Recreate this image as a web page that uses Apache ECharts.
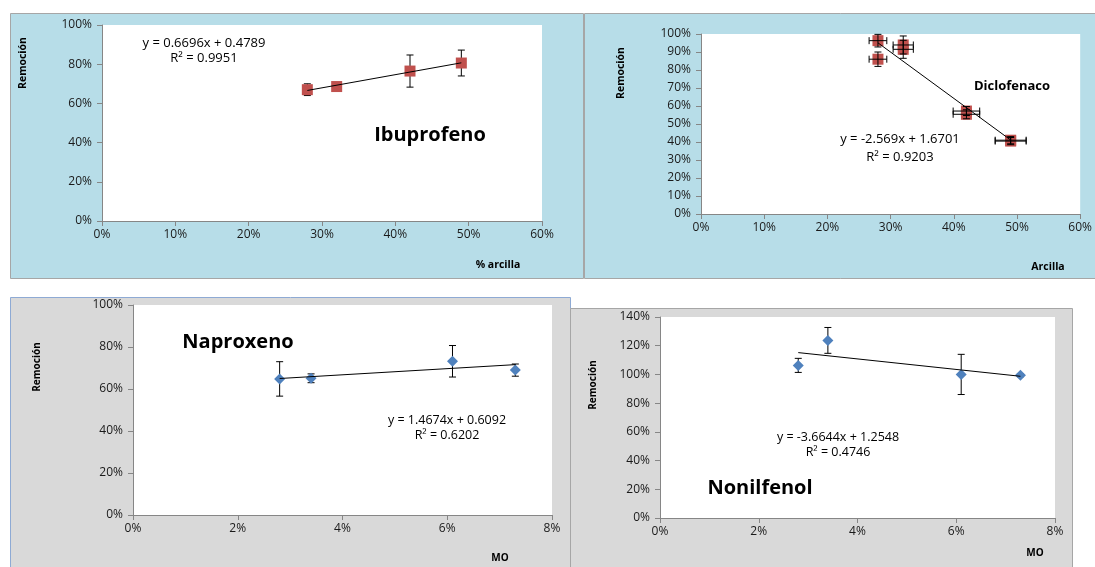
<!DOCTYPE html>
<html><head><meta charset="utf-8">
<script src="https://cdn.jsdelivr.net/npm/echarts@6/dist/echarts.min.js"></script>
<style>html,body{margin:0;padding:0;background:#fff;}#c{width:1095px;height:567px;}</style>
</head><body><div id="c"></div>
<script>
// ---- Data ----
const ibuX = [0.28, 0.32, 0.42, 0.49];
const ibuY = [0.670, 0.686, 0.765, 0.806];
const ibuYErr = [0.030, 0.010, 0.082, 0.066];
const ibuTrend = [[0.28, 0.666], [0.49, 0.807]];

const dicX = [0.28, 0.28, 0.32, 0.32, 0.42, 0.42, 0.49, 0.49];
const dicY = [0.963, 0.860, 0.939, 0.915, 0.572, 0.554, 0.410, 0.405];
const dicYErr = [0.035, 0.040, 0.050, 0.050, 0.025, 0.025, 0.020, 0.020];
const dicXErr = [0.014, 0.014, 0.016, 0.016, 0.021, 0.021, 0.0245, 0.0245];
const dicTrend = [[0.28, 0.951], [0.49, 0.411]];

const napX = [0.028, 0.034, 0.061, 0.073];
const napY = [0.648, 0.651, 0.732, 0.690];
const napYErr = [0.082, 0.021, 0.075, 0.029];
const napTrend = [[0.028, 0.650], [0.073, 0.716]];

const nonX = [0.028, 0.034, 0.061, 0.073];
const nonY = [1.063, 1.237, 1.000, 0.994];
const nonYErr = [0.049, 0.090, 0.140, 0.010];
const nonTrend = [[0.028, 1.152], [0.073, 0.987]];

const clayTicks = {min: 0, max: 0.6, interval: 0.1};
const moTicks = {min: 0, max: 0.08, interval: 0.02};

// ---- helpers ----
const FONT = '"Open Sans"';
const pct = v => Math.round(v * 100) + '%';
function pts(xs, ys) { return xs.map((x, i) => [x, ys[i]]); }
function errs(xs, ys, ye, xe) { return xs.map((x, i) => [x, ys[i], ye[i], xe ? xe[i] : 0]); }

function errRender(params, api) {
  const x = api.value(0), y = api.value(1), ye = api.value(2), xe = api.value(3);
  const cap = 3.5;
  const top = api.coord([x, y + ye]), bot = api.coord([x, y - ye]);
  const children = [];
  const st = {stroke: '#000', lineWidth: 1};
  children.push({type: 'line', shape: {x1: top[0], y1: top[1], x2: bot[0], y2: bot[1]}, style: st});
  children.push({type: 'line', shape: {x1: top[0] - cap, y1: top[1], x2: top[0] + cap, y2: top[1]}, style: st});
  children.push({type: 'line', shape: {x1: bot[0] - cap, y1: bot[1], x2: bot[0] + cap, y2: bot[1]}, style: st});
  if (xe > 0) {
    const l = api.coord([x - xe, y]), r = api.coord([x + xe, y]);
    children.push({type: 'line', shape: {x1: l[0], y1: l[1], x2: r[0], y2: r[1]}, style: st});
    children.push({type: 'line', shape: {x1: l[0], y1: l[1] - cap, x2: l[0], y2: l[1] + cap}, style: st});
    children.push({type: 'line', shape: {x1: r[0], y1: r[1] - cap, x2: r[0], y2: r[1] + cap}, style: st});
  }
  return {type: 'group', children};
}

function xAx(idx, t) {
  return Object.assign({type: 'value', gridIndex: idx, splitLine: {show: false},
    axisLine: {onZero: false, lineStyle: {color: '#868686'}},
    axisTick: {length: 5, lineStyle: {color: '#868686'}},
    axisLabel: {formatter: pct, color: '#1a1a1a', fontFamily: FONT, fontSize: 12, margin: 8, showMaxLabel: true, showMinLabel: true}}, t);
}
function yAx(idx, t) {
  return Object.assign({type: 'value', gridIndex: idx, splitLine: {show: false},
    axisLine: {show: true, onZero: false, lineStyle: {color: '#868686'}},
    axisTick: {show: true, length: 5, lineStyle: {color: '#868686'}},
    axisLabel: {formatter: pct, color: '#1a1a1a', fontFamily: FONT, fontSize: 12, margin: 10}}, t);
}
const redSym = {symbol: 'rect', symbolSize: 11, itemStyle: {color: '#c0504d', opacity: 1}};
const blueSym = {symbol: 'diamond', symbolSize: [11, 11], itemStyle: {color: '#4f81bd', opacity: 1}};

function seriesFor(idx, xs, ys, ye, xe, trend, sym, errOnTop) {
  return [
    {type: 'custom', xAxisIndex: idx, yAxisIndex: idx, renderItem: errRender, data: errs(xs, ys, ye, xe), z: errOnTop ? 3.5 : 2, silent: true},
    Object.assign({type: 'scatter', xAxisIndex: idx, yAxisIndex: idx, data: pts(xs, ys), z: 3, silent: true}, sym),
    {type: 'line', xAxisIndex: idx, yAxisIndex: idx, data: trend, symbol: 'none', z: 4, silent: true,
      lineStyle: {color: '#000', width: 1}}
  ];
}

function txt(x, y, text, size, bold, extra) {
  return Object.assign({type: 'text', x: x, y: y, z: 100,
    style: {text: text, fill: '#000', font: (bold ? 'bold ' : '') + size + 'px ' + FONT,
      textAlign: 'center', textVerticalAlign: 'middle'}}, extra || {});
}
function vtxt(x, y, text, size) {
  return {type: 'text', x: x, y: y, rotation: Math.PI / 2, z: 100,
    style: {text: text, fill: '#000', font: 'bold ' + size + 'px ' + FONT, textAlign: 'center', textVerticalAlign: 'middle'}};
}

const chart = echarts.init(document.getElementById('c'), null, {renderer: 'canvas'});
chart.setOption({
  animation: false,
  backgroundColor: '#ffffff',
  graphic: [
    {type: 'rect', z: -10, shape: {x: 10.5, y: 13.5, width: 573, height: 265}, style: {fill: '#b7dde8', stroke: '#a6a6a6', lineWidth: 1}},
    {type: 'rect', z: -10, shape: {x: 584.5, y: 13.5, width: 512, height: 265}, style: {fill: '#b7dde8', stroke: '#a6a6a6', lineWidth: 1}},
    {type: 'rect', z: -10, shape: {x: 10.5, y: 297.5, width: 560, height: 275}, style: {fill: '#d9d9d9', stroke: '#8eaad4', lineWidth: 1}},
    {type: 'rect', z: -9, shape: {x: 570.5, y: 308.5, width: 502, height: 265}, style: {fill: '#d9d9d9', stroke: '#a6a6a6', lineWidth: 1}},
    // panel 1
    txt(204, 43, 'y = 0.6696x + 0.4789', 13, false),
    txt(204, 58, 'R² = 0.9951', 13, false),
    txt(430, 135, 'Ibuprofeno', 20, true),
    vtxt(23, 63, 'Remoción', 10.5),
    txt(498, 265, '% arcilla', 10.5, true),
    // panel 2
    txt(900, 139, 'y = -2.569x + 1.6701', 13, false),
    txt(900, 157, 'R² = 0.9203', 13, false),
    txt(1012, 86, 'Diclofenaco', 13, true),
    vtxt(621, 73, 'Remoción', 10.5),
    txt(1048, 267, 'Arcilla', 10.5, true),
    // panel 3
    txt(447, 420, 'y = 1.4674x + 0.6092', 12.5, false),
    txt(447, 435, 'R² = 0.6202', 12.5, false),
    txt(238, 342, 'Naproxeno', 20, true),
    vtxt(37, 367, 'Remoción', 10),
    txt(500, 558, 'MO', 10, true),
    // panel 4
    txt(838, 437, 'y = -3.6644x + 1.2548', 12.5, false),
    txt(838, 452, 'R² = 0.4746', 12.5, false),
    txt(760, 488, 'Nonilfenol', 20, true),
    vtxt(593, 385, 'Remoción', 10),
    txt(1035, 553, 'MO', 10, true)
  ],
  grid: [
    {left: 102, top: 25, width: 440, height: 196, show: true, backgroundColor: '#fff', borderWidth: 0},
    {left: 701, top: 34, width: 387, height: 180, show: true, backgroundColor: '#fff', borderWidth: 0},
    {left: 133, top: 305, width: 419, height: 210, show: true, backgroundColor: '#fff', borderWidth: 0},
    {left: 660, top: 317, width: 395, height: 201, show: true, backgroundColor: '#fff', borderWidth: 0}
  ],
  xAxis: [xAx(0, clayTicks), xAx(1, clayTicks), xAx(2, moTicks), xAx(3, moTicks)],
  yAxis: [
    yAx(0, {min: 0, max: 1, interval: 0.2}),
    yAx(1, {min: 0, max: 1, interval: 0.1}),
    yAx(2, {min: 0, max: 1, interval: 0.2}),
    yAx(3, {min: 0, max: 1.4, interval: 0.2})
  ],
  series: [].concat(
    seriesFor(0, ibuX, ibuY, ibuYErr, null, ibuTrend, redSym, false),
    seriesFor(1, dicX, dicY, dicYErr, dicXErr, dicTrend, redSym, true),
    seriesFor(2, napX, napY, napYErr, null, napTrend, blueSym, false),
    seriesFor(3, nonX, nonY, nonYErr, null, nonTrend, blueSym, false)
  )
});
</script></body></html>
